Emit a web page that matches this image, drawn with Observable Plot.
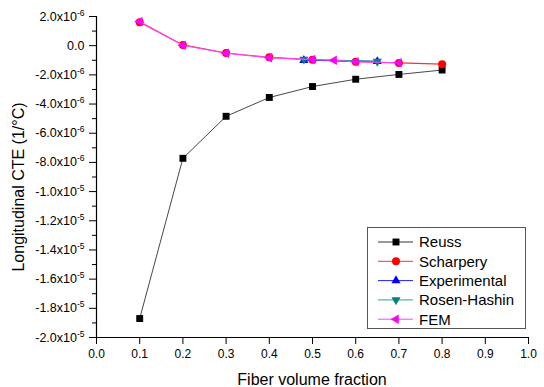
<!DOCTYPE html>
<html>
<head>
<meta charset="utf-8">
<script src="https://cdn.jsdelivr.net/npm/d3@7"></script>
<script src="https://cdn.jsdelivr.net/npm/@observablehq/plot@0.6"></script>
<style>
  html, body { margin: 0; padding: 0; background: #fff; }
  #chart { width: 544px; height: 387px; }
  svg { font-family: "Liberation Sans", Arial, sans-serif; }
</style>
</head>
<body>
<div id="chart"></div>
<script>
// ---- data ----
const seriesNames = ["Reuss", "Scharpery", "Experimental", "Rosen-Hashin", "FEM"];
const seriesColors = ["#000000", "#ff0000", "#0000ff", "#008080", "#ff00ff"];
const lineColors = ["#333333", "#ff3030", "#2020ff", "#30a090", "#ff40ff"];

const reussX = [0.1, 0.2, 0.3, 0.4, 0.5, 0.6, 0.7, 0.8];
const reussY = [-18.7e-6, -7.72e-6, -4.84e-6, -3.55e-6, -2.8e-6, -2.3e-6, -1.97e-6, -1.67e-6];

const scharperyX = [0.1, 0.2, 0.3, 0.4, 0.5, 0.6, 0.7, 0.8];
const scharperyY = [1.6e-6, 0.05e-6, -0.5e-6, -0.8e-6, -0.97e-6, -1.1e-6, -1.18e-6, -1.27e-6];

const experimentalX = [0.48, 0.65];
const experimentalY = [-1.0e-6, -1.08e-6];

const rosenX = [0.48, 0.65];
const rosenY = [-0.93e-6, -1.08e-6];

const femX = [0.1, 0.2, 0.3, 0.4, 0.5, 0.55, 0.6, 0.7];
const femY = [1.66e-6, 0.03e-6, -0.52e-6, -0.82e-6, -0.95e-6, -1.0e-6, -1.1e-6, -1.17e-6];

const xTicks = [0, 0.1, 0.2, 0.3, 0.4, 0.5, 0.6, 0.7, 0.8, 0.9, 1.0];
const yMajorTicks = [2e-6, 0, -2e-6, -4e-6, -6e-6, -8e-6, -1.0e-5, -1.2e-5, -1.4e-5, -1.6e-5, -1.8e-5, -2.0e-5];
const yMinorTicks = [1e-6, -1e-6, -3e-6, -5e-6, -7e-6, -9e-6, -1.1e-5, -1.3e-5, -1.5e-5, -1.7e-5, -1.9e-5];

const xLabel = "Fiber volume fraction";
const yLabel = "Longitudinal CTE (1/°C)";

// ---- helpers ----
const zip = (xs, ys) => xs.map((x, i) => ({x, y: ys[i]}));
const S60 = Math.sin(Math.PI / 3);
function tri(dir) {
  return {
    draw(ctx, size) {
      const R = Math.sqrt(size / Math.PI) * 1.25;
      let p;
      if (dir === "up") p = [[0, -R], [R * S60, R / 2], [-R * S60, R / 2]];
      else if (dir === "down") p = [[0, R], [R * S60, -R / 2], [-R * S60, -R / 2]];
      else p = [[-R, 0], [R / 2, -R * S60], [R / 2, R * S60]];
      ctx.moveTo(p[0][0], p[0][1]);
      ctx.lineTo(p[1][0], p[1][1]);
      ctx.lineTo(p[2][0], p[2][1]);
      ctx.closePath();
    }
  };
}
const symbols = ["square", "circle", tri("up"), tri("down"), tri("left")];
const radii = [3.9, 4, 4.2, 4.2, 4.4];

function yFmt(v) {
  if (Math.abs(v) < 1e-12) return "0.0";
  const e = Math.floor(Math.log10(Math.abs(v)) + 1e-9);
  const m = v / Math.pow(10, e);
  return m.toFixed(1) + "x10^" + e;
}

const datasets = [
  zip(reussX, reussY),
  zip(scharperyX, scharperyY),
  zip(experimentalX, experimentalY),
  zip(rosenX, rosenY),
  zip(femX, femY)
];

const marks = [];
datasets.forEach((d, i) => {
  marks.push(Plot.line(d, {x: "x", y: "y", stroke: lineColors[i], strokeWidth: i === 0 ? 0.9 : 1.2}));
  marks.push(Plot.dot(d, {x: "x", y: "y", symbol: symbols[i], r: radii[i], fill: seriesColors[i], stroke: "none"}));
});

const chart = Plot.plot({
  width: 544,
  height: 387,
  marginLeft: 96,
  marginRight: 16,
  marginTop: 16,
  marginBottom: 50,
  style: {fontFamily: "'Liberation Sans', Arial, sans-serif", background: "#fff", color: "#000"},
  x: {domain: [0, 1]},
  y: {domain: [-2e-5, 2e-6]},
  marks: [
    Plot.axisX({ticks: xTicks, tickSize: 7, tickPadding: 5, tickFormat: d3.format(".1f"), label: null, fontSize: 12, strokeWidth: 1}),
    Plot.axisY({ticks: yMajorTicks, tickSize: 7, tickPadding: 5, tickFormat: yFmt, label: null, fontSize: 12.5, strokeWidth: 1}),
    Plot.axisY({ticks: yMinorTicks, tickSize: 4, tickFormat: () => "", label: null, strokeWidth: 1}),
    Plot.ruleX([0], {stroke: "#000", strokeWidth: 1.2}),
    Plot.ruleY([-2e-5], {stroke: "#000", strokeWidth: 1.2}),
    ...marks
  ]
});

document.getElementById("chart").appendChild(chart);

const svg = d3.select(chart);

// superscript exponents on y tick labels
svg.selectAll('g[aria-label="y-axis tick label"] text').each(function () {
  const t = d3.select(this);
  const s = t.text();
  if (s.includes("^")) {
    const [base, exp] = s.split("^");
    t.text("");
    t.append("tspan").text(base);
    t.append("tspan").attr("dy", "-5").attr("font-size", "8.5px").text(exp);
  }
});

// axis titles
svg.append("text")
  .attr("x", 312).attr("y", 379)
  .attr("text-anchor", "middle").attr("dominant-baseline", "central")
  .attr("font-size", 16).attr("fill", "#000")
  .text(xLabel);
svg.append("text")
  .attr("transform", "translate(18,187) rotate(-90)")
  .attr("text-anchor", "middle").attr("dominant-baseline", "central")
  .attr("font-size", 16).attr("fill", "#000")
  .text(yLabel);

// legend
const lg = svg.append("g");
lg.append("rect").attr("x", 367.5).attr("y", 227.5).attr("width", 158).attr("height", 101)
  .attr("fill", "#fff").attr("stroke", "#555").attr("stroke-width", 1);
seriesNames.forEach((name, i) => {
  const cy = 242 + i * 19.3;
  lg.append("line").attr("x1", 378).attr("x2", 413).attr("y1", cy).attr("y2", cy)
    .attr("stroke", lineColors[i]).attr("stroke-width", 1);
  const sym = d3.symbol(typeof symbols[i] === "string" ? (symbols[i] === "square" ? d3.symbolSquare : d3.symbolCircle) : symbols[i], radii[i] * radii[i] * Math.PI);
  lg.append("path").attr("d", sym()).attr("transform", `translate(396,${cy})`).attr("fill", seriesColors[i]);
  lg.append("text").attr("x", 419).attr("y", cy).attr("dy", "0.36em")
    .attr("text-anchor", "start")
    .attr("font-size", 15).attr("fill", "#000").text(name);
});
</script>
</body>
</html>
